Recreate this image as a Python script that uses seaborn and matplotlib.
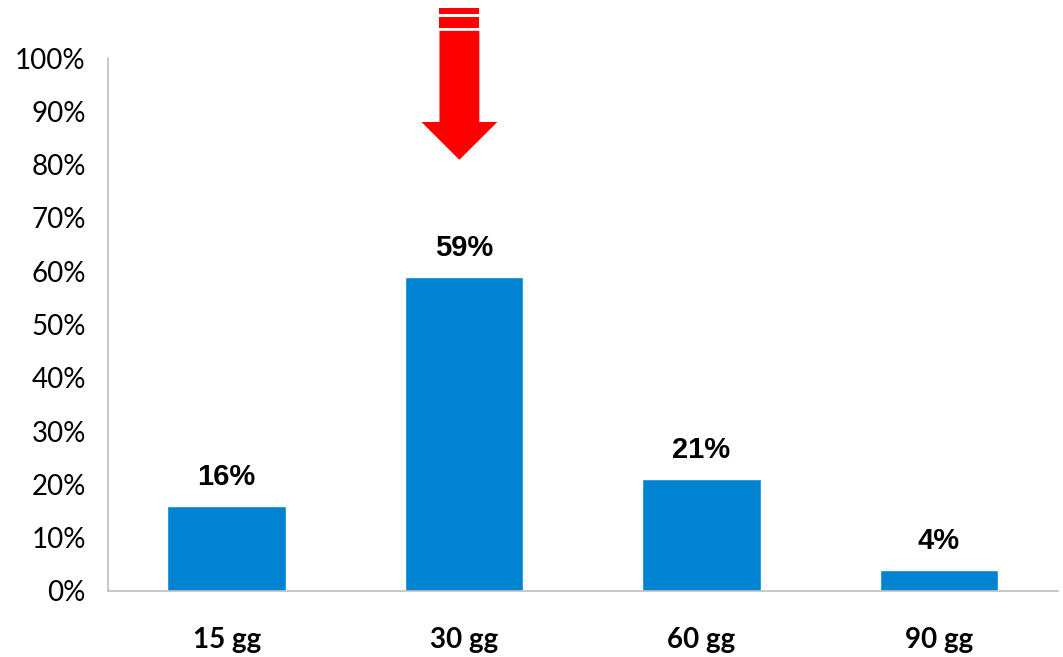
import matplotlib
matplotlib.use("Agg")
import matplotlib.pyplot as plt
import seaborn as sns
import pandas as pd
from matplotlib.patches import Polygon
from matplotlib.ticker import PercentFormatter

categories = ["15 gg", "30 gg", "60 gg", "90 gg"]
values = [16, 59, 21, 4]
yticks = list(range(0, 101, 10))

BLUE = "#0084D1"
GRAY = "#BFBFBF"


def draw_arrow(ax, xc):
    """Red block arrow above the highlighted bar, with two stripes on top."""
    sw, hw = 0.084, 0.16
    shaft = [(xc - sw, 105.1), (xc + sw, 105.1), (xc + sw, 88.0),
             (xc + hw, 88.0), (xc, 80.9), (xc - hw, 88.0), (xc - sw, 88.0)]
    ax.add_patch(Polygon(shaft, closed=True, color="red", clip_on=False, lw=0))
    for y0, y1 in [(105.6, 107.7), (108.3, 109.4)]:
        ax.add_patch(Polygon([(xc - sw, y0), (xc + sw, y0), (xc + sw, y1), (xc - sw, y1)],
                             closed=True, color="red", clip_on=False, lw=0))


def main():
    sns.set_style("white")
    plt.rcParams["font.family"] = ["Lato", "DejaVu Sans"]
    plt.rcParams["text.color"] = "black"
    plt.rcParams["xtick.color"] = "black"
    plt.rcParams["ytick.color"] = "black"

    df = pd.DataFrame({"cat": categories, "val": values})
    fig = plt.figure(figsize=(10.63, 6.57), dpi=100)
    ax = fig.add_axes([0.1016, 0.1005, 0.8934, 0.8112])

    sns.barplot(data=df, x="cat", y="val", color=BLUE, width=0.5, saturation=1, ax=ax)
    for p, v in zip(ax.patches, values):
        ax.text(p.get_x() + p.get_width() / 2, v + 2.8, f"{v}%", ha="center", va="bottom",
                fontsize=21, fontweight="bold", family=["Liberation Sans", "DejaVu Sans"])

    ax.set_xlim(-0.5, 3.5)
    ax.set_ylim(0, 100)
    ax.set_yticks(yticks)
    ax.yaxis.set_major_formatter(PercentFormatter(decimals=0))
    ax.set_xlabel("")
    ax.set_ylabel("")

    # category ticks sit between bars, labels centred under bars
    ax.set_xticks([-0.5, 0.5, 1.5, 2.5, 3.5])
    ax.set_xticklabels([])
    ax.set_xticks(range(len(categories)), minor=True)
    ax.set_xticklabels(categories, minor=True, fontsize=20, fontweight="bold")
    ax.tick_params(axis="x", which="major", length=8, color=GRAY, direction="out")
    ax.tick_params(axis="x", which="minor", length=0, pad=26)
    ax.tick_params(axis="y", length=8, color=GRAY, direction="out", labelsize=20, pad=8)

    for s in ["top", "right"]:
        ax.spines[s].set_visible(False)
    for s in ["left", "bottom"]:
        ax.spines[s].set_color(GRAY)
        ax.spines[s].set_linewidth(1.2)

    draw_arrow(ax, 0.98)

    fig.savefig("out.png", dpi=100)
    plt.close(fig)


if __name__ == "__main__":
    main()
